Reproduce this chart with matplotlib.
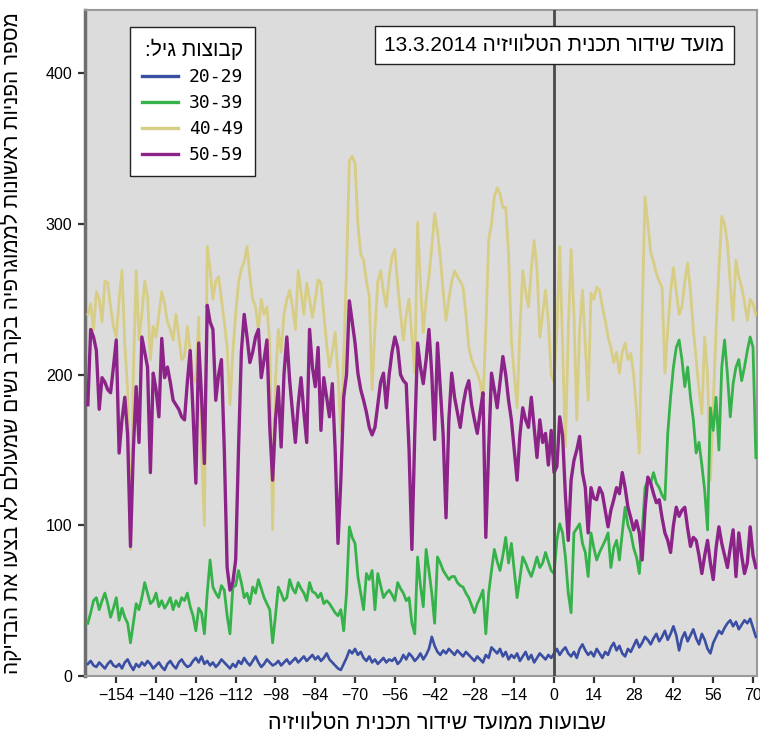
import numpy as np
import matplotlib
matplotlib.use("Agg")
import matplotlib.pyplot as plt
import matplotlib.transforms as mtransforms
from matplotlib.lines import Line2D

plt.rcParams['font.family'] = ['Liberation Sans', 'DejaVu Sans']

weeks = list(range(-164, 72))

age_groups = ["20-29", "30-39", "40-49", "50-59"]

g20_29 = [
    8, 10, 7, 6, 9, 7, 5, 8, 10, 7,
    6, 8, 5, 9, 11, 7, 4, 8, 6, 9, 7, 10, 8, 5,
    7, 9, 6, 4, 8, 10, 7, 5, 9, 11, 8, 6, 7, 10,
    12, 9, 13, 8, 10, 7, 9, 6, 8, 11, 9, 7, 5, 8,
    6, 10, 8, 12, 9, 7, 10, 13, 9, 6, 8, 11, 9, 7,
    8, 10, 7, 9, 11, 8, 10, 12, 9, 11, 13, 10, 12, 14,
    11, 13, 10, 12, 15, 11, 9, 7, 5, 4, 8, 12, 17, 15,
    18, 14, 16, 12, 10, 13, 9, 11, 8, 10, 12, 9, 11, 10,
    12, 8, 10, 14, 11, 15, 13, 10, 12, 15, 11, 14, 18, 26,
    20, 16, 14, 17, 15, 18, 16, 14, 17, 15, 13, 16, 14, 12,
    10, 13, 11, 9, 14, 12, 19, 17, 15, 18, 13, 16, 11, 14,
    12, 15, 10, 13, 16, 11, 14, 9, 12, 15, 13, 11, 14, 12,
    15, 18, 14, 17, 19, 15, 13, 16, 12, 18, 21, 17, 14, 16,
    13, 18, 15, 12, 16, 14, 19, 22, 17, 20, 15, 13, 18, 16,
    20, 24, 19, 22, 26, 24, 21, 25, 28, 23, 26, 30, 24, 28,
    33, 27, 17, 25, 29, 23, 27, 31, 25, 21, 28, 24, 18, 15,
    22, 26, 30, 28, 32, 35, 37, 33, 36, 31, 34, 37, 35, 38,
    32, 26,
]

g30_39 = [
    35, 42, 50, 52, 44, 50, 55, 48, 39, 45,
    52, 37, 45, 39, 35, 22, 35, 48, 44, 52, 62, 55, 48, 50,
    55, 46, 50, 45, 48, 52, 44, 50, 46, 52, 50, 55, 46, 40,
    30, 45, 42, 28, 55, 77, 59, 55, 52, 60, 57, 40, 28, 59,
    60, 70, 62, 52, 55, 48, 59, 55, 64, 58, 52, 48, 44, 22,
    40, 59, 55, 50, 52, 64, 58, 55, 62, 58, 55, 50, 62, 56,
    55, 52, 55, 48, 50, 48, 45, 42, 40, 44, 30, 55, 99, 92,
    88, 66, 55, 44, 68, 64, 70, 44, 68, 60, 52, 55, 57, 54,
    50, 62, 58, 55, 50, 52, 35, 28, 79, 60, 46, 84, 70, 55,
    35, 79, 75, 70, 67, 64, 66, 66, 62, 60, 59, 55, 52, 47,
    42, 48, 52, 57, 28, 55, 70, 84, 76, 70, 80, 92, 75, 88,
    70, 52, 65, 79, 75, 70, 66, 72, 79, 72, 75, 82, 76, 70,
    68, 90, 101, 95, 79, 55, 42, 95, 98, 101, 88, 82, 66, 95,
    85, 77, 82, 86, 90, 95, 72, 85, 90, 77, 95, 112, 100, 95,
    85, 79, 68, 95, 125, 130, 128, 135, 128, 125, 120, 117, 161, 185,
    205, 218, 223, 210, 192, 205, 185, 170, 148, 155, 140, 123, 97, 178,
    163, 185, 150, 205, 223, 200, 172, 194, 205, 210, 196, 205, 216, 225,
    218, 145,
]

g40_49 = [
    240, 247, 230, 255, 250, 235, 262, 261, 245, 232,
    225, 250, 269, 220, 190, 84, 200, 269, 223, 240, 262, 252, 210, 232,
    225, 240, 255, 247, 235, 230, 223, 240, 225, 210, 212, 232, 215, 200,
    195, 238, 150, 100, 285, 270, 250, 262, 265, 250, 235, 218, 180, 215,
    240, 261, 270, 275, 285, 265, 250, 245, 230, 250, 240, 245, 220, 97,
    196, 230, 215, 240, 250, 256, 245, 230, 269, 255, 240, 261, 250, 238,
    250, 263, 261, 240, 220, 205, 215, 228, 200, 163, 210, 270, 342, 345,
    340, 300, 280, 276, 262, 252, 190, 230, 262, 269, 255, 245, 265, 278,
    283, 260, 240, 223, 240, 250, 225, 201, 301, 260, 228, 250, 265, 285,
    307, 295, 278, 255, 236, 250, 262, 269, 265, 262, 258, 240, 218, 210,
    205, 201, 195, 183, 230, 289, 300, 318, 324, 320, 311, 311, 280, 223,
    200, 178, 230, 269, 255, 245, 270, 289, 270, 225, 240, 256, 235, 200,
    195, 230, 285, 220, 152, 230, 283, 240, 170, 230, 256, 220, 183, 254,
    250, 258, 256, 245, 236, 225, 218, 208, 215, 201, 215, 221, 210, 214,
    200, 176, 148, 240, 318, 300, 281, 275, 267, 262, 258, 201, 230, 255,
    271, 255, 240, 245, 262, 274, 255, 230, 210, 190, 174, 225, 200, 130,
    180, 230, 270, 305, 300, 287, 260, 236, 276, 265, 258, 248, 236, 250,
    247, 240,
]

g50_59 = [
    180, 230, 225, 216, 177, 198, 195, 190, 188, 205,
    223, 148, 170, 185, 160, 86, 150, 192, 155, 225, 215, 205, 135, 201,
    190, 172, 224, 198, 205, 195, 183, 180, 177, 172, 170, 195, 216, 175,
    128, 221, 185, 141, 246, 235, 230, 183, 200, 210, 150, 72, 57, 62,
    77, 150, 215, 240, 225, 208, 215, 225, 230, 198, 210, 223, 165, 130,
    170, 192, 152, 200, 225, 196, 175, 155, 180, 198, 175, 155, 230, 205,
    192, 218, 163, 198, 185, 172, 194, 150, 88, 130, 185, 200, 249, 235,
    221, 201, 190, 183, 175, 165, 160, 165, 180, 195, 201, 178, 200, 215,
    225, 218, 200, 196, 194, 150, 84, 160, 221, 205, 194, 210, 230, 200,
    157, 221, 190, 160, 105, 170, 201, 185, 175, 165, 180, 190, 196, 180,
    170, 161, 175, 188, 92, 150, 201, 190, 178, 195, 212, 200, 183, 170,
    150, 130, 160, 178, 170, 165, 185, 165, 145, 170, 155, 161, 140, 163,
    135, 139, 172, 160, 120, 90, 130, 143, 150, 159, 135, 125, 95, 125,
    118, 117, 125, 121, 110, 99, 110, 117, 125, 121, 135, 125, 112, 105,
    97, 103, 95, 77, 110, 132, 128, 121, 115, 117, 105, 95, 90, 82,
    100, 112, 106, 110, 112, 98, 86, 92, 90, 80, 68, 80, 90, 75,
    64, 85, 99, 88, 80, 72, 85, 97, 66, 95, 80, 68, 75, 99,
    80, 72,
]

series = [g20_29, g30_39, g40_49, g50_59]
colors = ["#3a4fa3", "#36b24a", "#d7cd84", "#8c2389"]
widths = [1.9, 2.0, 2.0, 2.4]
zorders = [3, 5, 4, 6]

xticks = list(range(-154, 71, 14))
yticks = [0, 100, 200, 300, 400]


def heb(s):
    return s[::-1]


fig = plt.figure(figsize=(7.6, 7.38), dpi=100)
ax = fig.add_axes([85 / 760, 62 / 738, 672 / 760, 666 / 738])
ax.set_facecolor("#dcdcdc")

for vals, col, lw, z, lab in zip(series, colors, widths, zorders, age_groups):
    ax.plot(weeks, vals, color=col, lw=lw, zorder=z, label=lab)

ax.axvline(0, color="#4a4a4a", lw=2.0, zorder=7)

ax.set_xlim(-165, 71.4)
ax.set_ylim(0, 442)
ax.set_xticks(xticks)
ax.set_yticks(yticks)
ax.set_xticklabels([str(t).replace("-", "\u2212") for t in xticks], fontsize=11.5)
ax.set_yticklabels([str(t) for t in yticks], fontsize=11.5)
ax.tick_params(direction="out", length=5, width=1.6, color="#333333", pad=4)

for side in ["top", "right", "bottom"]:
    ax.spines[side].set_color("#9a9a9a")
    ax.spines[side].set_linewidth(1.5)
ax.spines["left"].set_color("#6e6e6e")
ax.spines["left"].set_linewidth(2.5)

ax.set_xlabel(heb("שבועות ממועד שידור תכנית הטלוויזיה"), fontsize=15.5, labelpad=8)
ax.xaxis.set_label_coords(0.524, -0.056)
ax.set_ylabel(heb("מספר הפניות ראשונות לממוגרפיה בקרב נשים שמעולם לא בצעו את הבדיקה"),
              fontsize=15, labelpad=6)
ax.yaxis.set_label_coords(-0.094, 0.5)

handles = [Line2D([0], [0], color=c, lw=2.4) for c in colors]
leg = ax.legend(handles, age_groups, loc="upper left", bbox_to_anchor=(0.067, 0.9745),
                borderaxespad=0.0,
                title=heb("קבוצות גיל:"), frameon=True, fancybox=False,
                edgecolor="#222222", facecolor="white", framealpha=1,
                prop={"family": "DejaVu Sans Mono", "size": 13},
                title_fontsize=15, handlelength=2.0, handletextpad=0.6,
                labelspacing=0.45, borderpad=0.65)
leg.get_frame().set_linewidth(1.0)
leg._legend_box.align = "right"
leg.set_zorder(10)

trans = mtransforms.blended_transform_factory(ax.transData, ax.transAxes)
ax.text(0, 0.9475, "13.3.2014 " + heb("מועד שידור תכנית הטלוויזיה"),
        transform=trans, ha="center", va="center", fontsize=15, zorder=10,
        bbox=dict(boxstyle="square,pad=0.45", fc="white", ec="#222222", lw=1.0))

fig.savefig("out.png", dpi=100)
